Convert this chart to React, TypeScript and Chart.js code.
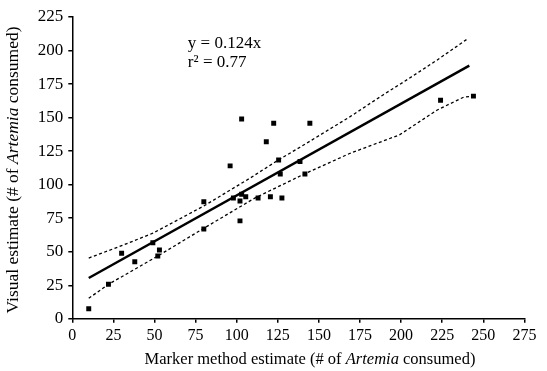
import React, { useEffect, useRef } from "react";
import { Chart, registerables } from "chart.js";

Chart.register(...registerables);

// Observed data: marker method estimate (x) vs visual estimate (y)
const markerEstimate = [10, 22, 30, 38, 49, 53, 52, 80, 80, 103, 96, 98, 102, 103, 105.5, 102, 113, 122.5, 144.5, 118, 125.5, 138.5, 126.5, 141.5, 120.5, 127.5, 224, 244];
const visualEstimate = [7.5, 25.7, 48.8, 42.6, 56.7, 51.3, 46.8, 87.3, 67, 149, 114, 90, 87.8, 92.8, 91, 73, 90, 145.8, 145.8, 132, 118.4, 117.2, 108, 108, 91, 90, 163, 166];

// Regression line
const fitIntercept = 23.6;
const fitSlope = 0.684;
const fitRange = [10, 241.5];

// Confidence band (dashed)
const upperBandX = [10, 30, 49, 80, 108, 126, 138.5, 169, 189, 205, 222, 241];
const upperBandY = [45.3, 54.5, 63.8, 84.1, 104.8, 118.9, 127.9, 150.7, 166.9, 179.3, 193, 209.2];
const lowerBandX = [10, 22, 52, 80, 111, 142, 169, 199, 222, 238, 244];
const lowerBandY = [15.3, 25.7, 46.8, 67.5, 90, 108.5, 123.4, 137.1, 155.7, 165.2, 166.1];

// Axes
const xTicks = { min: 0, max: 275, step: 25 };
const yTicks = { min: 0, max: 225, step: 25 };

const equationLines = ["y = 0.124x", "r\u00B2 = 0.77"];
const xTitle: [string, boolean][] = [["Marker method estimate (# of ", false], ["Artemia", true], [" consumed)", false]];
const yTitle: [string, boolean][] = [["Visual estimate (# of ", false], ["Artemia", true], [" consumed)", false]];

const FONT = "'Liberation Serif', 'Times New Roman', serif";

function drawMixed(ctx: CanvasRenderingContext2D, parts: [string, boolean][], size: number) {
  const widths = parts.map(([t, it]) => {
    ctx.font = `${it ? "italic " : ""}${size}px ${FONT}`;
    return ctx.measureText(t).width;
  });
  const total = widths.reduce((a, b) => a + b, 0);
  let x = -total / 2;
  parts.forEach(([t, it], i) => {
    ctx.font = `${it ? "italic " : ""}${size}px ${FONT}`;
    ctx.fillText(t, x, 0);
    x += widths[i];
  });
}

const annotationPlugin = {
  id: "annotations",
  afterDraw(chart: any) {
    const ctx: CanvasRenderingContext2D = chart.ctx;
    const xs = chart.scales.x;
    const ys = chart.scales.y;
    ctx.save();
    ctx.fillStyle = "#000";
    ctx.textBaseline = "middle";
    ctx.textAlign = "left";
    // equation text
    ctx.font = `17px ${FONT}`;
    const ex = xs.getPixelForValue(70.3);
    ctx.fillText(equationLines[0], ex, ys.getPixelForValue(205));
    ctx.fillText(equationLines[1], ex, ys.getPixelForValue(191));
    // x title
    ctx.save();
    ctx.translate(310, 360);
    drawMixed(ctx, xTitle, 16.5);
    ctx.restore();
    // y title
    ctx.save();
    ctx.translate(13, 170);
    ctx.rotate(-Math.PI / 2);
    drawMixed(ctx, yTitle, 17.5);
    ctx.restore();
    ctx.restore();
  },
};

export default function App() {
  const ref = useRef<HTMLCanvasElement | null>(null);
  useEffect(() => {
    if (!ref.current) return;
    const points = markerEstimate.map((x, i) => ({ x, y: visualEstimate[i] }));
    const fit = fitRange.map((x) => ({ x, y: fitIntercept + fitSlope * x }));
    const upper = upperBandX.map((x, i) => ({ x, y: upperBandY[i] }));
    const lower = lowerBandX.map((x, i) => ({ x, y: lowerBandY[i] }));
    const chart = new Chart(ref.current, {
      type: "scatter",
      data: {
        datasets: [
          {
            data: upper,
            showLine: true,
            borderColor: "#000",
            borderWidth: 1.3,
            borderDash: [3, 2.5],
            pointRadius: 0,
          },
          {
            data: lower,
            showLine: true,
            borderColor: "#000",
            borderWidth: 1.3,
            borderDash: [3, 2.5],
            pointRadius: 0,
          },
          {
            data: fit,
            showLine: true,
            borderColor: "#000",
            borderWidth: 2.5,
            pointRadius: 0,
          },
          {
            data: points,
            showLine: false,
            pointStyle: "rect",
            pointRadius: 3.5,
            backgroundColor: "#000",
            borderColor: "#000",
            borderWidth: 0,
          },
        ],
      },
      options: {
        animation: false,
        responsive: false,
        events: [],
        layout: { padding: { top: 17, right: 22.6, left: 0, bottom: 0 } },
        plugins: { legend: { display: false }, tooltip: { enabled: false } },
        scales: {
          x: {
            type: "linear",
            min: xTicks.min,
            max: xTicks.max,
            afterFit: (s: any) => {
              s.height = 52.2;
            },
            ticks: { stepSize: xTicks.step, color: "#000", font: { family: FONT, size: 16 }, padding: 3, maxRotation: 0 },
            grid: { drawOnChartArea: false, drawTicks: true, tickLength: 4, color: "#000", lineWidth: 1.5 },
            border: { display: true, color: "#000", width: 1.5 },
          },
          y: {
            type: "linear",
            min: yTicks.min,
            max: yTicks.max,
            afterFit: (s: any) => {
              s.width = 72.3;
            },
            ticks: { stepSize: yTicks.step, color: "#000", font: { family: FONT, size: 17 }, padding: 5 },
            grid: { drawOnChartArea: false, drawTicks: true, tickLength: 4, color: "#000", lineWidth: 1.5 },
            border: { display: true, color: "#000", width: 1.5 },
          },
        },
      },
      plugins: [annotationPlugin],
    });
    return () => chart.destroy();
  }, []);
  return (
    <div style={{ position: "fixed", left: 0, top: 0, width: 547, height: 371, background: "#fff" }}>
      <canvas ref={ref} width={547} height={371} style={{ width: 547, height: 371, display: "block" }} />
    </div>
  );
}
